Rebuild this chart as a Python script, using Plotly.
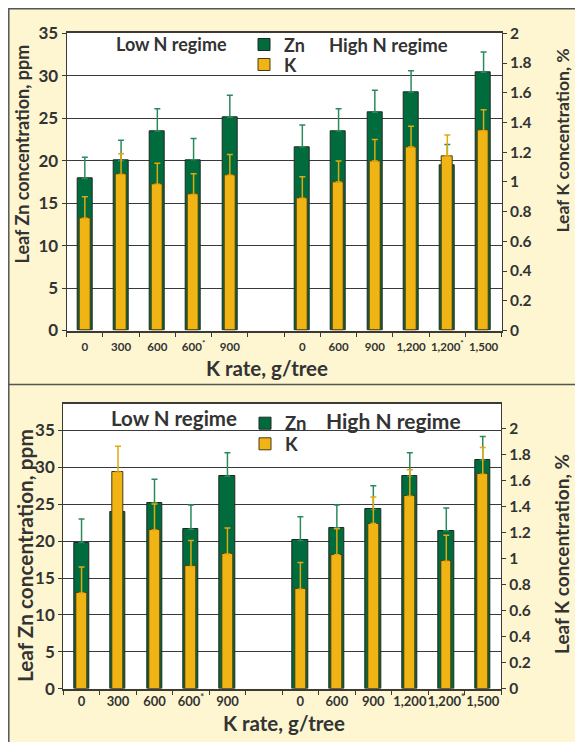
import plotly.graph_objects as go

# ---------------- data ----------------
low_n_rates = ["0", "300", "600", "600<sup>*</sup>", "900"]
high_n_rates = ["0", "600", "900", "1,200", "1,200<sup>*</sup>", "1,500"]

# upper panel
zn_a = [17.9, 20.0, 23.5, 20.1, 25.1, 21.6, 23.5, 25.7, 28.1, 19.4, 30.4]
zn_a_err = [2.5, 2.4, 2.6, 2.5, 2.6, 2.6, 2.6, 2.6, 2.5, 2.5, 2.4]
k_a = [0.755, 1.05, 0.985, 0.915, 1.045, 0.89, 1.0, 1.14, 1.235, 1.175, 1.345]
k_a_err = [0.145, 0.14, 0.14, 0.14, 0.14, 0.145, 0.14, 0.145, 0.14, 0.14, 0.14]

# lower panel
zn_b = [19.8, 24.0, 25.2, 21.6, 28.8, 20.1, 21.8, 24.3, 28.8, 21.4, 31.0]
zn_b_err = [3.2, 3.2, 3.2, 3.3, 3.2, 3.2, 3.1, 3.2, 3.2, 3.1, 3.2]
k_b = [0.735, 1.665, 1.22, 0.94, 1.035, 0.765, 1.03, 1.27, 1.48, 0.98, 1.65]
k_b_err = [0.2, 0.2, 0.2, 0.2, 0.2, 0.205, 0.2, 0.205, 0.205, 0.2, 0.205]

# ---------------- styling ----------------
OFF = 8                      # the page body keeps its default 8px margin
W, H = 583 - OFF, 742 - OFF  # so the figure fits the window exactly
FONT = "Lato"
TXT = "#333333"
CREAM = "#fdf6d1"
GREEN = "#006b3d"
GREEN_ERR = "#2b8a5c"
YELLOW = "#f0b414"
YELLOW_ERR = "#e2a80c"
GRID = "#3a3a3a"
GREEN_LINE = dict(color="#1d2a22", width=1)
YELLOW_LINE = dict(color="#4a3a12", width=1)

def fx(px):  # window pixel -> paper fraction
    return (px - OFF) / W

def fy(py):
    return 1 - (py - OFF) / H

labels = low_n_rates + high_n_rates
xs = list(range(len(low_n_rates))) + [len(low_n_rates) + 1 + i for i in range(len(high_n_rates))]
n_slots = len(low_n_rates) + 1 + len(high_n_rates)
boundaries = [i - 0.5 for i in range(n_slots + 1)]

fig = go.Figure()

panels = [
    dict(zn=zn_a, zn_err=zn_a_err, k=k_a, k_err=k_a_err, xa="x", ya="y", ya2="y2",
         leg_zn="legend", leg_k="legend2"),
    dict(zn=zn_b, zn_err=zn_b_err, k=k_b, k_err=k_b_err, xa="x2", ya="y3", ya2="y4",
         leg_zn="legend3", leg_k="legend4"),
]
for p in panels:
    n = len(p["zn"])
    fig.add_trace(go.Bar(
        x=xs, y=p["zn"], width=0.42, name="Zn", showlegend=False,
        marker=dict(color=GREEN, line=GREEN_LINE),
        error_y=dict(type="data", symmetric=False, array=p["zn_err"], arrayminus=[0] * n,
                     color=GREEN_ERR, thickness=1.5, width=3),
        xaxis=p["xa"], yaxis=p["ya"],
    ))
    fig.add_trace(go.Bar(
        x=xs, y=p["k"], width=0.30, name="K", showlegend=False,
        marker=dict(color=YELLOW, line=YELLOW_LINE),
        error_y=dict(type="data", symmetric=False, array=p["k_err"], arrayminus=[0] * n,
                     color=YELLOW_ERR, thickness=1.5, width=3),
        xaxis=p["xa"], yaxis=p["ya2"],
    ))
    # legend entries (plain swatches, without error-bar glyphs)
    fig.add_trace(go.Bar(x=[None], y=[None], name="Zn", marker=dict(color=GREEN, line=GREEN_LINE),
                         xaxis=p["xa"], yaxis=p["ya"], legend=p["leg_zn"]))
    fig.add_trace(go.Bar(x=[None], y=[None], name="K", marker=dict(color=YELLOW, line=YELLOW_LINE),
                         xaxis=p["xa"], yaxis=p["ya2"], legend=p["leg_k"]))

def xaxis(domain, anchor, fsize, standoff):
    return dict(
        domain=domain, anchor=anchor, range=[-0.5, n_slots - 0.5],
        tickmode="array", tickvals=xs, ticktext=labels, ticks="", tickangle=0,
        ticklabelstandoff=standoff,
        tickfont=dict(family=FONT, size=fsize, color=TXT, weight="bold"),
        showgrid=False, zeroline=False, showline=True, linecolor=GRID, linewidth=1.5,
        mirror=True,
        minor=dict(tickmode="array", tickvals=boundaries, ticks="outside", ticklen=5,
                   tickcolor=GRID, tickwidth=1, showgrid=False),
        automargin=False, fixedrange=True,
    )

def yleft(domain, anchor, rng, fsize):
    return dict(
        domain=domain, anchor=anchor, range=rng, tickmode="linear", tick0=0, dtick=5,
        ticks="outside", ticklen=4, tickcolor=GRID,
        tickfont=dict(family=FONT, size=fsize, color=TXT, weight="bold"),
        showgrid=True, gridcolor=GRID, gridwidth=1.3, zeroline=False,
        showline=True, linecolor=GRID, linewidth=1.2, automargin=False,
    )

def yright(overlay, anchor, rng, fsize):
    return dict(
        overlaying=overlay, anchor=anchor, side="right", range=rng,
        tickmode="linear", tick0=0, dtick=0.2,
        ticks="outside", ticklen=4, tickcolor=GRID,
        tickfont=dict(family=FONT, size=fsize, color=TXT, weight="bold"),
        showgrid=False, zeroline=False, showline=True, linecolor=GRID, linewidth=1.2,
        automargin=False,
    )

def legend_at(x, y_center, size):
    return dict(x=fx(x), y=fy(y_center - (0.65 * size + 6)), xanchor="left", yanchor="top",
                bgcolor="rgba(0,0,0,0)", itemwidth=30,
                font=dict(family=FONT, size=size, color=TXT, weight="bold"))

fig.update_layout(
    width=W, height=H, autosize=False,
    margin=dict(l=0, r=0, t=0, b=0, pad=0),
    paper_bgcolor=CREAM, plot_bgcolor="white",
    barmode="overlay", bargap=0,
    xaxis=xaxis([fx(66.7), fx(501.7)], "y", 11.5, 5),
    yaxis=yleft([fy(330.5), fy(33.3)], "x", [0, 35], 17),
    yaxis2=yright("y", "x", [0, 2], 15.5),
    xaxis2=xaxis([fx(63.3), fx(501.0)], "y3", 13, 0),
    yaxis3=yleft([fy(688.6), fy(404)], "x2", [0, 38.6], 17),
    yaxis4=yright("y3", "x2", [0, 2.19], 15.5),
    legend=legend_at(244, 44, 18),
    legend2=legend_at(244, 64, 18),
    legend3=legend_at(245, 422.7, 18.5),
    legend4=legend_at(245, 443.3, 18.5),
    font=dict(family=FONT, color=TXT),
)

# white right margin and panel frames
shapes = [
    dict(type="rect", xref="paper", yref="paper", x0=fx(578), x1=1, y0=0, y1=1,
         fillcolor="white", line=dict(width=0), layer="below"),
    dict(type="rect", xref="paper", yref="paper", x0=fx(8.8), x1=fx(578), y0=fy(745), y1=fy(8.8),
         fillcolor="rgba(0,0,0,0)", line=dict(color="#555555", width=1.5)),
    dict(type="line", xref="paper", yref="paper", x0=fx(8), x1=fx(578), y0=fy(384.5), y1=fy(384.5),
         line=dict(color="#555555", width=1.5)),
]
fig.update_layout(shapes=shapes)

def ann(text, x, y, size, angle=0):
    return dict(text=text, x=fx(x), y=fy(y), xref="paper", yref="paper",
                xanchor="center", yanchor="middle", showarrow=False, textangle=angle,
                font=dict(family=FONT, size=size, color=TXT, weight="bold"))

fig.update_layout(annotations=[
    ann("Low N regime", 171, 44, 18),
    ann("High N regime", 388, 45, 18.5),
    ann("Leaf Zn concentration, ppm", 22, 154.5, 18, -90),
    ann("Leaf K concentration, %", 563, 140.6, 17.5, -90),
    ann("K rate, g/tree", 267, 368, 20.5),
    ann("Low N regime", 174, 418, 20.5),
    ann("High N regime", 393.5, 420.7, 21),
    ann("Leaf Zn concentration, ppm", 24, 556, 20.8, -90),
    ann("Leaf K concentration, %", 561, 554, 19, -90),
    ann("K rate, g/tree", 284, 723, 20.5),
])

fig.write_html("out.html")
